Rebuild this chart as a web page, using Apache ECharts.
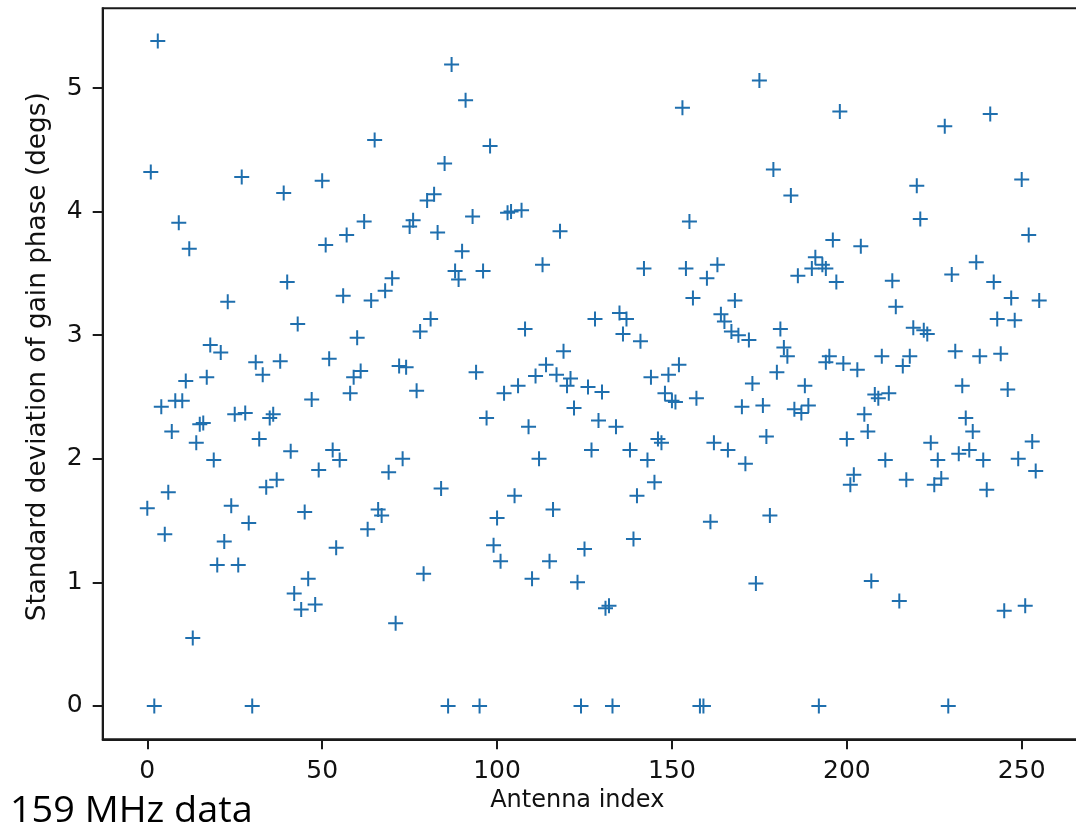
<!DOCTYPE html>
<html>
<head>
<meta charset="utf-8">
<script src="https://cdn.jsdelivr.net/npm/echarts@6/dist/echarts.min.js"></script>
<style>
html,body{margin:0;padding:0;background:#fff;}
#chart{width:1076px;height:827px;}
</style>
</head>
<body>
<div id="chart"></div>
<script>
// Antenna index (x) and standard deviation of gain phase in degrees (y)
const antennaIndex = [
  0,1,2,3,4,5,6,7,8,9,10,11,12,13,14,15,16,17,18,19,
  20,21,22,23,24,25,26,27,28,29,30,31,32,33,34,35,36,37,38,39,
  40,41,42,43,44,45,46,47,48,49,50,51,52,53,54,55,56,57,58,59,
  60,61,62,63,64,65,66,67,68,69,70,71,72,73,74,75,76,77,78,79,
  80,81,82,83,84,85,86,87,88,89,90,91,93,94,95,96,97,98,99,
  100,101,102,103,104,105,106,107,108,109,110,111,112,113,114,115,116,117,118,119,
  120,121,122,123,124,125,126,127,128,129,130,131,132,133,134,135,136,137,138,139,
  140,141,142,143,144,145,146,147,148,149,150,151,152,153,154,155,156,157,158,159,
  160,161,162,163,164,165,166,167,168,169,170,171,172,173,174,175,176,177,178,179,
  180,181,182,183,184,185,186,187,188,189,190,191,192,193,194,194,195,196,197,198,199,
  200,201,202,203,204,205,206,207,208,209,210,211,212,213,214,215,216,217,218,219,
  220,221,222,223,224,225,226,227,228,229,230,231,232,233,234,235,236,237,238,239,
  240,241,242,243,244,245,246,247,248,249,250,251,252,253,254,255
];
const phaseStd = [
  1.60,4.32,0,5.38,2.42,1.39,1.73,2.22,2.47,3.91,2.47,2.63,3.70,0.55,2.13,2.28,2.29,2.66,2.92,1.99,
  1.14,2.86,1.33,3.27,1.62,2.36,1.14,4.28,2.37,1.48,0,2.78,2.16,2.68,1.77,2.33,2.36,1.83,2.79,4.15,
  3.43,2.06,0.91,3.09,0.78,1.57,1.03,2.48,0.82,1.91,4.25,3.73,2.81,2.07,1.28,1.99,3.32,3.81,2.53,2.66,
  2.98,2.71,3.92,1.43,3.28,4.58,1.59,1.54,3.36,1.89,3.46,0.67,2.75,2.00,2.74,3.88,3.93,2.55,3.03,1.07,
  4.09,3.13,4.14,3.83,1.76,4.39,0,5.19,3.52,3.45,3.68,4.90,3.96,2.70,0,3.52,2.33,4.53,1.30,
  1.52,1.17,2.53,3.99,4.00,1.70,2.59,4.01,3.05,2.26,1.03,2.67,2.00,3.57,2.76,1.17,1.59,2.68,3.84,2.87,
  2.59,2.65,2.41,1.00,0,1.27,2.58,2.07,3.13,2.31,2.54,0.79,0.81,0,2.26,3.18,3.01,3.13,2.07,1.35,
  1.70,2.95,3.54,1.99,2.66,1.81,2.16,2.13,2.53,2.68,2.47,2.46,2.76,4.84,3.54,3.92,3.30,2.49,0,0,
  3.46,1.49,2.13,3.57,3.17,3.11,2.07,3.03,3.28,3.00,2.42,1.96,2.96,2.61,0.99,5.06,2.43,2.18,1.54,4.34,
  2.70,3.05,2.90,2.83,4.13,2.40,3.48,2.37,2.59,2.43,3.54,3.63,0,3.57,3.54,2.78,2.83,3.77,3.43,4.81,2.77,
  2.16,1.79,1.87,2.72,3.72,2.36,2.22,1.01,2.52,2.49,2.83,1.99,2.53,3.44,3.23,0.85,2.75,1.83,2.83,3.06,
  4.21,3.94,3.04,3.01,2.13,1.79,1.99,1.84,4.69,0,3.49,2.87,2.04,2.59,2.33,2.07,2.22,3.59,2.83,1.99,
  1.75,4.79,3.43,3.13,2.85,0.77,2.56,3.30,3.12,2.00,4.26,0.81,3.81,2.14,1.90,3.28
];
const xTickValues = [0, 50, 100, 150, 200, 250];
const yTickValues = [0, 1, 2, 3, 4, 5];
const xTitle = 'Antenna index';
const yTitle = 'Standard deviation of gain phase (degs)';
const caption = '159 MHz data';

const points = antennaIndex.map((x, i) => [x, phaseStd[i]]);

const chart = echarts.init(document.getElementById('chart'), null, {renderer: 'canvas'});
const tickFont = {fontFamily: 'DejaVu Sans', fontSize: 25, color: '#111'};
const plusPath = 'path://M-1,-7.5 L1,-7.5 L1,-1 L7.5,-1 L7.5,1 L1,1 L1,7.5 L-1,7.5 L-1,1 L-7.5,1 L-7.5,-1 L-1,-1 Z';

chart.setOption({
  animation: false,
  backgroundColor: '#ffffff',
  grid: {
    left: 102.7, top: 8.3, width: 981.1, height: 731,
    containLabel: false, outerBoundsMode: 'none',
    show: true, borderColor: '#1a1a1a', borderWidth: 2, backgroundColor: 'transparent'
  },
  xAxis: {
    type: 'value', min: -12.75, max: 267.75,
    name: xTitle, nameLocation: 'middle', nameGap: 45,
    nameTextStyle: {fontFamily: 'DejaVu Sans', fontSize: 24, color: '#111', padding: [0, 32, 0, 0]},
    axisLine: {show: true, onZero: false, lineStyle: {color: '#1a1a1a', width: 2}},
    axisTick: {show: true, length: 10, lineStyle: {color: '#1a1a1a', width: 2}, customValues: xTickValues},
    axisLabel: Object.assign({margin: 20, customValues: xTickValues}, tickFont),
    splitLine: {show: false}
  },
  yAxis: {
    type: 'value', min: -0.27, max: 5.645,
    name: yTitle, nameLocation: 'middle', nameGap: 52, nameRotate: 90,
    nameTextStyle: {fontFamily: 'DejaVu Sans', fontSize: 26.3, color: '#111', padding: [0, 0, 0, 34]},
    axisLine: {show: true, onZero: false, lineStyle: {color: '#1a1a1a', width: 2}},
    axisTick: {show: true, length: 10, lineStyle: {color: '#1a1a1a', width: 2}, customValues: yTickValues},
    axisLabel: Object.assign({margin: 20, customValues: yTickValues}, tickFont),
    splitLine: {show: false}
  },
  series: [{
    type: 'scatter',
    data: points,
    symbol: plusPath,
    symbolSize: 15,
    itemStyle: {color: '#1f6fae', opacity: 1},
    clip: false
  }],
  graphic: [{
    type: 'text', x: 10, y: 794, scaleX: 1.05, scaleY: 1,
    style: {x: 0, y: 0, text: caption, font: '36px "Open Sans"', fill: '#000', verticalAlign: 'top'}
  }]
});
</script>
</body>
</html>
